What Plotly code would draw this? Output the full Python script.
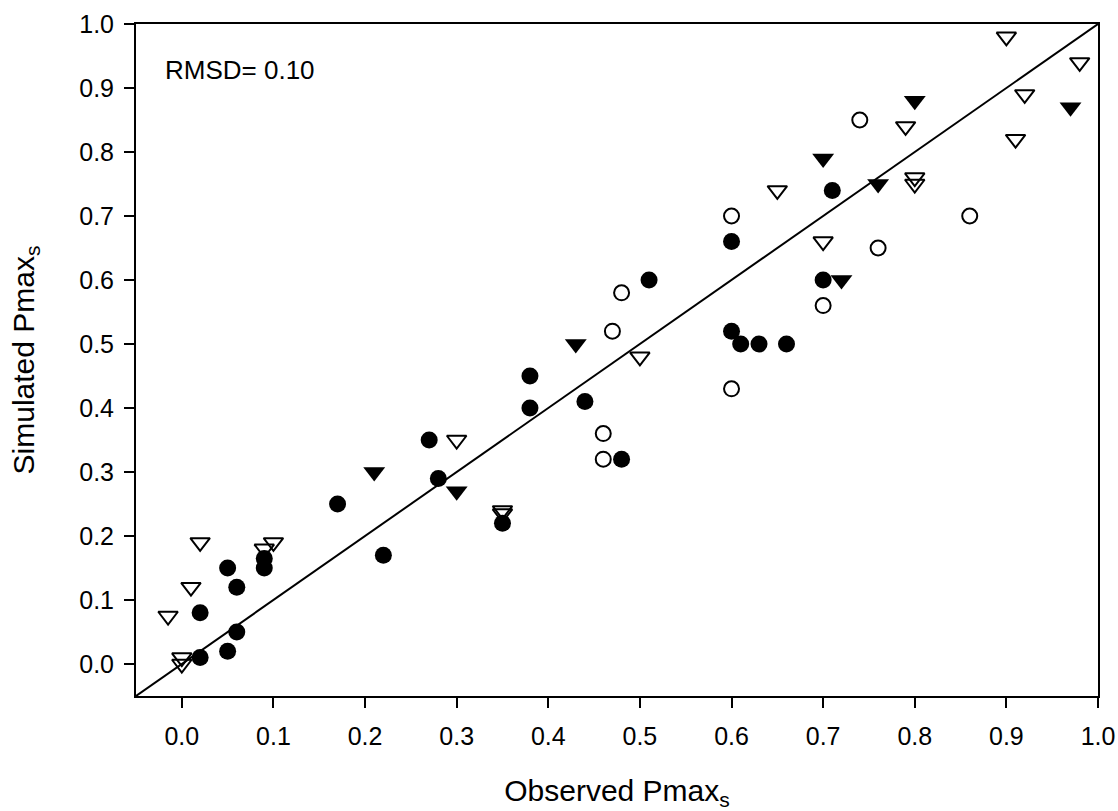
"""Observed vs simulated Pmax_s scatter with 1:1 line."""
import plotly.graph_objects as go

FONT = "Liberation Sans, Arial, Helvetica, sans-serif"
INK = "#000000"

# filled circles
obs_fc = [0.02, 0.02, 0.05, 0.05, 0.06, 0.06, 0.09, 0.09, 0.17, 0.22, 0.27, 0.28, 0.35,
          0.38, 0.38, 0.44, 0.48, 0.51, 0.60, 0.60, 0.61, 0.63, 0.66, 0.70, 0.71]
sim_fc = [0.01, 0.08, 0.02, 0.15, 0.05, 0.12, 0.15, 0.165, 0.25, 0.17, 0.35, 0.29, 0.22,
          0.40, 0.45, 0.41, 0.32, 0.60, 0.66, 0.52, 0.50, 0.50, 0.50, 0.60, 0.74]

# open circles
obs_oc = [0.46, 0.46, 0.47, 0.48, 0.60, 0.60, 0.70, 0.74, 0.76, 0.86]
sim_oc = [0.36, 0.32, 0.52, 0.58, 0.70, 0.43, 0.56, 0.85, 0.65, 0.70]

# filled triangles
obs_ft = [0.21, 0.30, 0.43, 0.70, 0.72, 0.76, 0.80, 0.97]
sim_ft = [0.30, 0.27, 0.50, 0.79, 0.60, 0.75, 0.88, 0.87]

# open triangles
obs_ot = [-0.015, 0.00, 0.00, 0.01, 0.02, 0.09, 0.10, 0.30, 0.35, 0.35, 0.50, 0.65, 0.70,
          0.79, 0.80, 0.80, 0.90, 0.91, 0.92, 0.98]
sim_ot = [0.075, 0.01, 0.00, 0.12, 0.19, 0.18, 0.19, 0.35, 0.24, 0.235, 0.48, 0.74, 0.66,
          0.84, 0.76, 0.75, 0.98, 0.82, 0.89, 0.94]

one_to_one = [-0.05, 1.0]
tick_vals = [0.0, 0.1, 0.2, 0.3, 0.4, 0.5, 0.6, 0.7, 0.8, 0.9, 1.0]
tick_text = [f"{v:.1f}" for v in tick_vals]
rmsd_label = "RMSD= 0.10"

fig = go.Figure()
fig.add_trace(go.Scatter(x=one_to_one, y=one_to_one, mode="lines",
                         line=dict(color=INK, width=2), hoverinfo="skip"))
fig.add_trace(go.Scatter(x=obs_fc, y=sim_fc, mode="markers",
                         marker=dict(symbol="circle", size=17, color=INK, line=dict(width=0))))
fig.add_trace(go.Scatter(x=obs_oc, y=sim_oc, mode="markers",
                         marker=dict(symbol="circle-open", size=15, color=INK, line=dict(width=2))))
fig.add_trace(go.Scatter(x=obs_ft, y=sim_ft, mode="markers",
                         marker=dict(symbol="triangle-down", size=19, color=INK, line=dict(width=0))))
fig.add_trace(go.Scatter(x=obs_ot, y=sim_ot, mode="markers",
                         marker=dict(symbol="triangle-down-open", size=17, color=INK, line=dict(width=2))))

axis_common = dict(
    tickvals=tick_vals,
    ticktext=tick_text,
    range=[-0.05, 1.0],
    automargin=False,
    showgrid=False,
    zeroline=False,
    showline=True,
    linecolor=INK,
    linewidth=2,
    mirror=True,
    ticks="outside",
    ticklen=10,
    tickwidth=2,
    tickcolor=INK,
    tickfont=dict(family=FONT, size=25, color=INK),
)

fig.update_layout(
    width=1118,
    height=811,
    margin=dict(l=136, r=20, t=24, b=115),
    paper_bgcolor="white",
    plot_bgcolor="white",
    showlegend=False,
    font=dict(family=FONT, color=INK),
    xaxis=dict(
        axis_common,
        ticklabelstandoff=7,
        title=dict(text="Observed Pmax<sub>s</sub>", font=dict(family=FONT, size=30, color=INK),
                   standoff=31),
    ),
    yaxis=dict(
        axis_common,
        ticklabelstandoff=5,
        title=dict(text="Simulated Pmax<sub>s</sub>", font=dict(family=FONT, size=30, color=INK),
                   standoff=36),
    ),
    annotations=[dict(
        text=rmsd_label, xref="paper", yref="paper", x=0.028, y=0.932,
        xanchor="left", yanchor="middle", showarrow=False,
        font=dict(family=FONT, size=26, color=INK),
    )],
)

# drop the browser's default body margin so the 1118x811 figure fills the window
fig.write_html("out.html", config={"displayModeBar": False},
               post_script="document.body.style.margin = '0';")
